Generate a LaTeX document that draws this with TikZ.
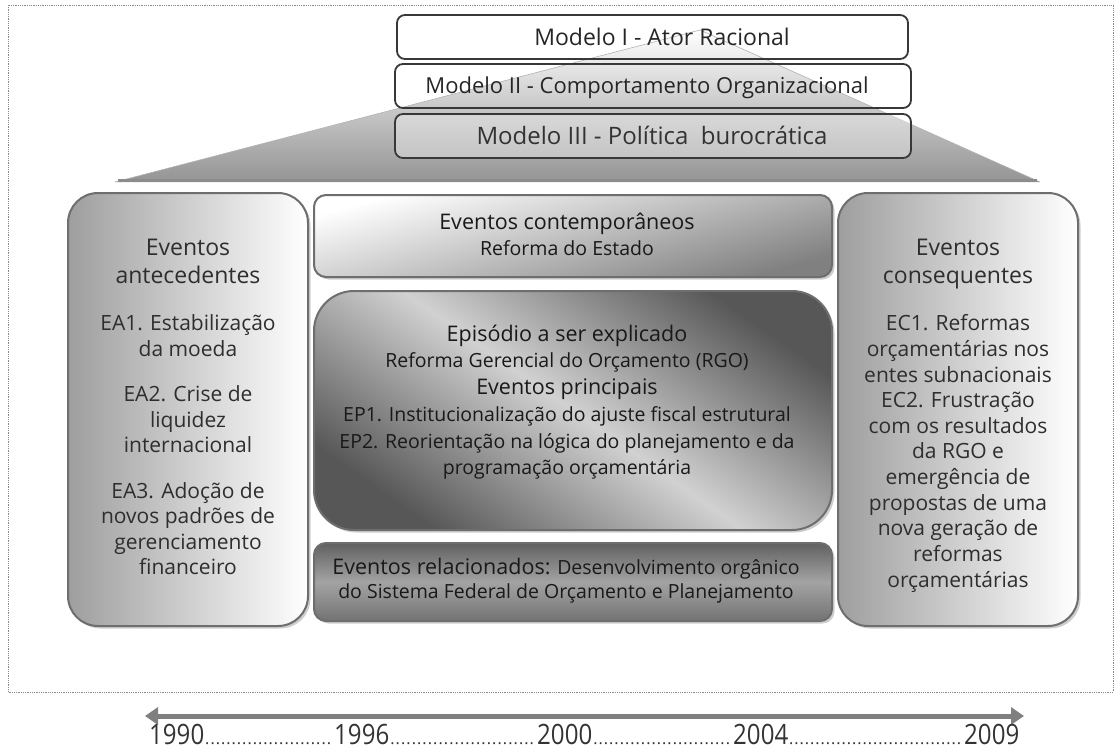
\documentclass[tikz,border=0pt]{standalone}
\usepackage{fontspec}
\setmainfont{Open Sans}
\newfontfamily\yearfont[FakeStretch=0.86]{Open Sans}
\usetikzlibrary{shadows,arrows.meta}
\definecolor{ink}{HTML}{2E2E2E}
\definecolor{edgegray}{HTML}{6E6E6E}
\definecolor{framegray}{HTML}{8A8A8A}
\definecolor{arrowgray}{HTML}{7F7F7F}
\newcommand\dotrow[1]{\hbox to #1pt{\xleaders\hbox to 5.2pt{\hss.\hss}\hfill}}
\begin{document}
\begin{tikzpicture}[x=1pt,y=-1pt,
  modelbox/.style={draw=black!78, line width=1.8pt, rounded corners=8pt, inner sep=0pt},
  evbox/.style={draw=edgegray, line width=2pt, inner sep=0pt,
     drop shadow={shadow xshift=2.5pt, shadow yshift=-2.5pt, opacity=0.35, fill=black!55}},
  body/.style={text=ink, font=\fontsize{21}{25}\selectfont, inner sep=0pt, anchor=base},
  title/.style={text=ink, font=\fontsize{23}{27}\selectfont, inner sep=0pt, anchor=base},
  cbody/.style={text=black!90, font=\fontsize{19.5}{24}\selectfont, inner sep=0pt, anchor=base},
  ctitle/.style={text=black!90, font=\fontsize{21.5}{26}\selectfont, inner sep=0pt, anchor=base},
  mtext/.style={text=black!85, font=\fontsize{22}{26}\selectfont, inner sep=0pt, anchor=base},
  year/.style={text=black!80, font=\yearfont\fontsize{28}{30}\selectfont, inner sep=0pt, anchor=base west},
  dotsty/.style={text=black!80, font=\fontsize{16}{20}\selectfont, inner sep=0pt, anchor=base west},
]
\useasboundingbox (0,0) rectangle (1116,749);

% outer dotted frame
\draw[framegray, densely dotted, line width=0.8pt] (8,5) rectangle (1113,692);

% wedge behind the models
\path[top color=white, bottom color=black!42] (700,30) -- (1040,182) -- (115,182) -- cycle;
\draw[black!30, line width=0.6pt, line join=round] (115,182) -- (700,30) -- (1040,182);
\draw[black!45, line width=3pt] (118,180.5) -- (1037,180.5);

% model boxes
\node[modelbox, minimum width=511pt, minimum height=44pt] (m1) at (652.5,37) {};
\node[modelbox, minimum width=516pt, minimum height=44pt] (m2) at (653,86) {};
\node[modelbox, minimum width=516pt, minimum height=44pt, fill=white, fill opacity=0.35] (m3) at (653,136) {};
\node[mtext, font=\fontsize{23}{26}\selectfont] (t1) at (662,45.5) {Modelo I - Ator Racional};
\node[mtext] (t2) at (647,94) {Modelo II - Comportamento Organizacional};
\node[mtext, text=black!80, font=\fontsize{24}{28}\selectfont] (t3) at (652,144.5) {Modelo III - Política\ \ burocrática};

% event boxes
\node[evbox, rounded corners=30pt, minimum width=240pt, minimum height=433pt,
      left color=black!38, right color=white] (ante) at (188,409.5) {};
\node[evbox, rounded corners=30pt, minimum width=240pt, minimum height=433pt,
      left color=black!38, right color=white] (cons) at (958,409.5) {};
\node[evbox, rounded corners=12pt, minimum width=518pt, minimum height=82pt,
      top color=white, bottom color=black!50, shading angle=15] (cont) at (573,236) {};
\node[evbox, rounded corners=40pt, minimum width=518pt, minimum height=239pt,
      top color=black!66, bottom color=black!66, middle color=black!18, shading angle=-35] (epis) at (573,410.5) {};
\node[evbox, rounded corners=12pt, minimum width=518pt, minimum height=78pt,
      top color=black!62, bottom color=black!55, middle color=black!36] (rel) at (573,582) {};

% left column text
\node[title] (a1) at (188,255) {Eventos};
\node[title] (a2) at (188,283) {antecedentes};
\foreach \y/\t in {330/EA1. Estabilização, 356/da moeda, 401/EA2. Crise de, 427/liquidez,
  452/internacional, 498/EA3. Adoção de, 523/novos padrões de, 549/gerenciamento, 574/financeiro}
  \node[body] (a\y) at (188,\y) {\t};

% right column text
\node[title] (c1) at (958,255) {Eventos};
\node[title] (c2) at (958,283) {consequentes};
\foreach \y/\t in {330/EC1. Reformas, 356/orçamentárias nos, 382/entes subnacionais,
  407/EC2. Frustração, 433/com os resultados, 458/da RGO e, 484/emergência de,
  510/propostas de uma, 535/nova geração de, 561/reformas, 587/orçamentárias}
  \node[body] (c\y) at (958,\y) {\t};

% centre column text
\node[ctitle] (k1) at (567,229) {Eventos contemporâneos};
\node[cbody] (k2) at (567,255) {Reforma do Estado};

\node[ctitle] (e1) at (567,341) {Episódio a ser explicado};
\node[cbody] (e2) at (567,367) {Reforma Gerencial do Orçamento (RGO)};
\node[ctitle] (e3) at (567,394) {Eventos principais};
\node[cbody] (e4) at (567,421) {EP1. Institucionalização do ajuste fiscal estrutural};
\node[cbody] (e5) at (567,448) {EP2. Reorientação na lógica do planejamento e da};
\node[cbody] (e6) at (567,474) {programação orçamentária};

\node[cbody] (r1) at (566,574) {{\fontsize{21.5}{26}\selectfont Eventos relacionados:} Desenvolvimento orgânico};
\node[cbody] (r2) at (566,598) {do Sistema Federal de Orçamento e Planejamento};

% timeline
\coordinate (tl) at (145,716);
\coordinate (tr) at (1024,716);
\draw[arrowgray, line width=5pt, {Triangle[length=13pt,width=17pt]}-{Triangle[length=13pt,width=17pt]}] (tl) -- (tr);

\node[year] (y1) at (149,744) {1990};
\node[year] (y2) at (334,744) {1996};
\node[year] (y3) at (537,744) {2000};
\node[year] (y4) at (733,744) {2004};
\node[year] (y5) at (964,744) {2009};
\node[dotsty] (g1) at (y1.base east) {\dotrow{127}};
\node[dotsty] (g2) at (y2.base east) {\dotrow{145}};
\node[dotsty] (g3) at (y3.base east) {\dotrow{138}};
\node[dotsty] (g4) at (y4.base east) {\dotrow{173}};
\end{tikzpicture}
\end{document}
